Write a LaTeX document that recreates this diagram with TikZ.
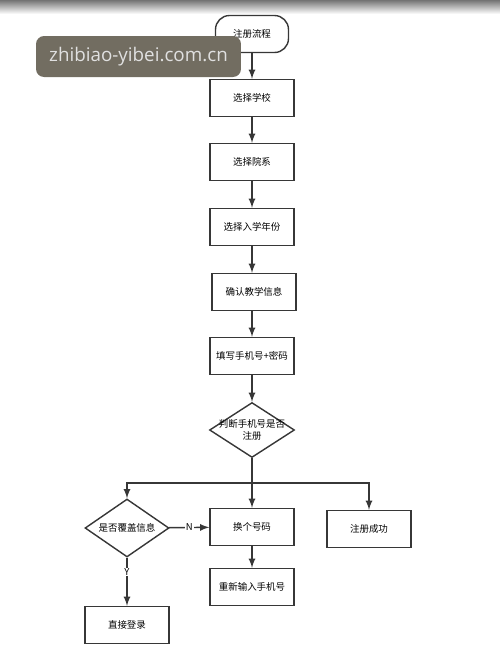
\documentclass[tikz,border=0pt]{standalone}
\usepackage{fontspec}
\newfontfamily\cjk{Noto Sans CJK SC}
\newfontfamily\wmfont{Open Sans}
\usetikzlibrary{shapes.geometric}
\definecolor{wmgray}{RGB}{114,109,97}
\definecolor{linegray}{RGB}{55,55,55}
\tikzset{
  stepbox/.style={draw=linegray,thick,fill=white,minimum width=1.68cm,minimum height=0.74cm,inner sep=0pt,font=\cjk\fontsize{5.4}{7}\selectfont},
  startbox/.style={stepbox,rounded corners=0.28cm,minimum width=1.46cm},
  decision/.style={draw=linegray,thick,fill=white,diamond,minimum width=#1,inner sep=0pt},
  arr/.style={-latex,thick,draw=linegray},
  yn/.style={fill=white,inner sep=0.5pt,font=\cjk\fontsize{5.4}{7}\selectfont}
}
\begin{document}
\begin{tikzpicture}[x=0.02cm,y=-0.02cm]
  \useasboundingbox (0,0) rectangle (500,657);
  % photo shadow at the top
  \shade[top color=black!55,bottom color=white] (0,0) rectangle (500,14);
  % main column
  \node[startbox] (start) at (252,34) {注册流程};
  \node[stepbox] (school) at (252,98) {选择学校};
  \node[stepbox] (dept) at (252,162) {选择院系};
  \node[stepbox] (year) at (252,227) {选择入学年份};
  \node[stepbox] (confirm) at (254,292) {确认教学信息};
  \node[stepbox] (fill) at (252,356) {填写手机号+密码};
  \node[decision=1.7cm,minimum height=1.1cm,label={[font=\cjk\fontsize{5.4}{7}\selectfont,align=center]center:判断手机号是否\\注册}] (judge) at (252,430) {};
  % branches
  \node[decision=1.68cm,minimum height=1.16cm,label={[font=\cjk\fontsize{5.4}{7}\selectfont]center:是否覆盖信息}] (cover) at (127,528) {};
  \node[stepbox] (change) at (252,527) {换个号码};
  \node[stepbox] (success) at (369,529) {注册成功};
  \node[stepbox] (reenter) at (252,587) {重新输入手机号};
  \node[stepbox] (login) at (127,625) {直接登录};
  \coordinate (split) at (252,483);
  % connectors
  \draw[arr] (start) -- (school);
  \draw[arr] (school) -- (dept);
  \draw[arr] (dept) -- (year);
  \draw[arr] (year) -- (year |- confirm.north);
  \draw[arr] (confirm.south -| fill) -- (fill);
  \draw[arr] (fill) -- (judge);
  \draw[arr] (judge) -- (change);
  \draw[arr] (split) -| (cover.north);
  \draw[arr] (split) -| (success.north);
  \draw[arr] (change) -- (reenter);
  \draw[arr] (cover) -- node[yn] (no) {N} (change);
  \draw[arr] (cover) -- node[yn,pos=0.3] (yes) {Y} (login);
  % watermark
  \node[fill=wmgray,rounded corners=0.16cm,minimum width=4.1cm,minimum height=0.82cm,text=white!88!black,font=\wmfont\fontsize{10.7}{12}\selectfont] (mark) at (138.5,56.5) {zhibiao-yibei.com.cn};
\end{tikzpicture}
\end{document}
